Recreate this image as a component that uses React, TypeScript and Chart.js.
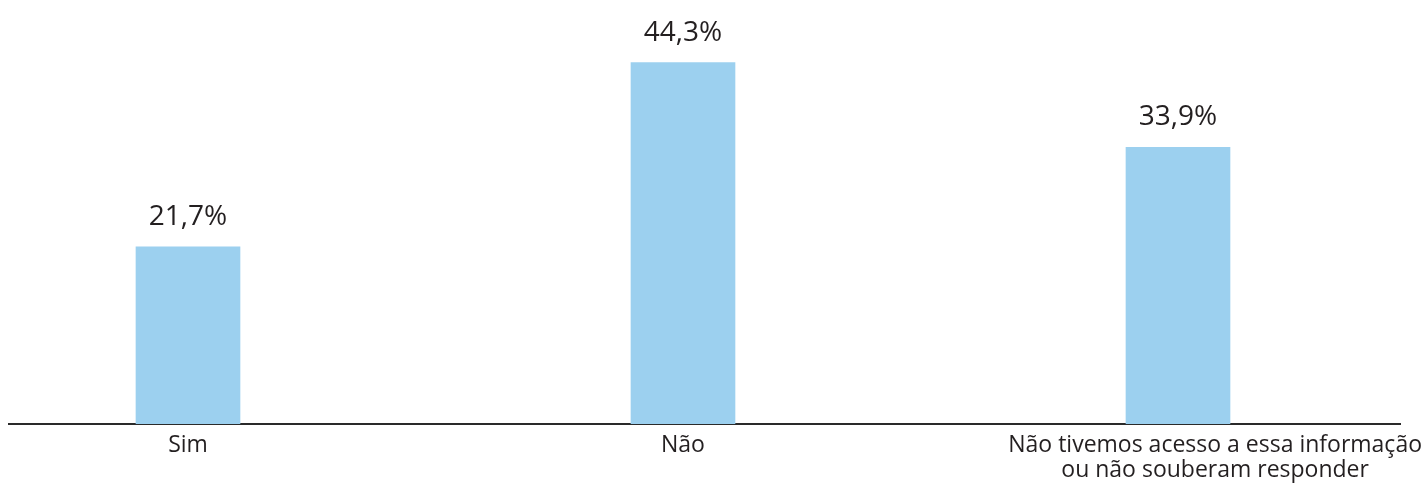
import React, { useEffect, useRef } from "react";
import { Chart, registerables } from "chart.js";

Chart.register(...registerables);

const categories: (string | string[])[] = [
  "Sim",
  "Não",
  ["Não tivemos acesso a essa informação", "ou não souberam responder"],
];
const values: number[] = [21.7, 44.3, 33.9];
const categoryIndex: number[] = [0, 1, 2];
const tickPositions: number[] = [0, 1, 2.075];

const FONT = '"Open Sans", "Noto Sans", sans-serif';
const TEXT = "#231f20";

const valueLabels = {
  id: "valueLabels",
  afterDatasetsDraw(chart: any) {
    const ctx = chart.ctx;
    const meta = chart.getDatasetMeta(0);
    ctx.save();
    ctx.font = `28px ${FONT}`;
    ctx.fillStyle = TEXT;
    ctx.textAlign = "center";
    ctx.textBaseline = "alphabetic";
    meta.data.forEach((bar: any, i: number) => {
      const txt = values[i].toFixed(1).replace(".", ",") + "%";
      ctx.fillText(txt, bar.x, bar.y - 22);
    });
    ctx.restore();
  },
};

export default function App() {
  const ref = useRef<HTMLCanvasElement | null>(null);
  useEffect(() => {
    let chart: Chart | null = null;
    let cancelled = false;
    const make = () => {
      if (cancelled || !ref.current) return;
      chart = new Chart(ref.current, {
        type: "bar",
        data: {
          datasets: [
            {
              data: categoryIndex.map((x, i) => ({ x, y: values[i] })),
              backgroundColor: "#9cd0ef",
              borderWidth: 0,
              barThickness: 104,
            },
          ],
        },
        options: {
          animation: false,
          responsive: false,
          maintainAspectRatio: false,
          layout: { padding: { left: 9, right: 24, top: 16, bottom: 0 } },
          plugins: { legend: { display: false }, tooltip: { enabled: false } },
          scales: {
            x: {
              type: "linear",
              offset: false,
              min: -0.3616,
              max: 2.4485,
              grid: { display: false, drawTicks: false, offset: false },
              border: { display: true, color: "#2a2a2a", width: 2 },
              afterBuildTicks: (scale: any) => {
                scale.ticks = tickPositions.map((v) => ({ value: v }));
              },
              afterFit: (scale: any) => {
                scale.height = 62;
                scale.paddingLeft = 0;
                scale.paddingRight = 0;
              },
              ticks: {
                autoSkip: false,
                maxRotation: 0,
                minRotation: 0,
                padding: 9,
                color: TEXT,
                font: { family: FONT, size: 23, lineHeight: 1.1 },
                callback: (_v: any, i: number) => categories[i],
              },
            },
            y: {
              display: false,
              min: 0,
              max: 50,
            },
          },
        },
        plugins: [valueLabels],
      } as any);
    };
    const f = (document as any).fonts;
    if (f && f.load) {
      Promise.all([f.load(`23px ${FONT}`), f.load(`28px ${FONT}`)]).then(make, make);
    } else make();
    return () => {
      cancelled = true;
      if (chart) chart.destroy();
    };
  }, []);
  return (
    <div style={{ position: "absolute", left: 0, top: 0, width: 1424, height: 486, background: "#fff" }}>
      <canvas ref={ref} width={1424} height={486} style={{ width: 1424, height: 486, display: "block" }} />
    </div>
  );
}
